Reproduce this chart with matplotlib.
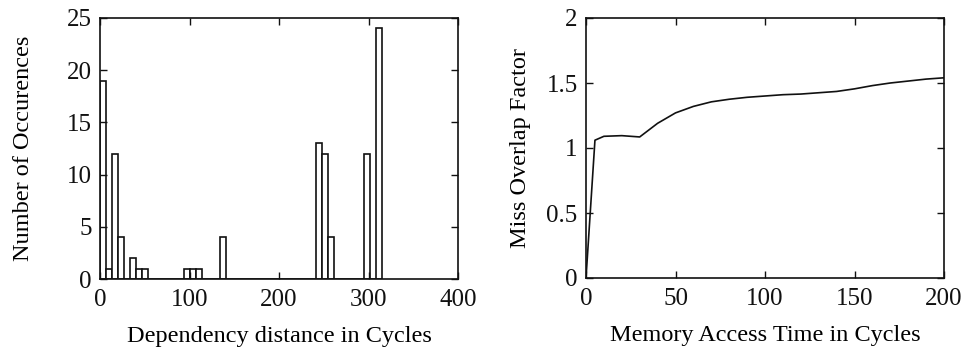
import matplotlib
matplotlib.use("Agg")
import matplotlib.pyplot as plt
import numpy as np

plt.rcParams['font.family'] = ['Liberation Serif', 'DejaVu Serif']

# Left chart: histogram of dependency distances (bin width ~6.7 cycles)
bin_width = 6.7
hist_counts = [19, 1, 12, 4, 0, 2, 1, 1, 0, 0, 0, 0, 0, 0, 1, 1, 1, 0, 0, 0,
               4, 0, 0, 0, 0, 0, 0, 0, 0, 0, 0, 0, 0, 0, 0, 0, 13, 12, 4, 0,
               0, 0, 0, 0, 12, 0, 24]

# Right chart: miss overlap factor vs memory access time
access_time = [0, 5, 10, 20, 30, 40, 50, 60, 70, 80, 90, 100, 110, 120, 130,
               140, 150, 160, 170, 180, 190, 200]
overlap = [0, 1.06, 1.09, 1.095, 1.085, 1.19, 1.27, 1.32, 1.355, 1.375, 1.39,
           1.40, 1.41, 1.415, 1.425, 1.435, 1.455, 1.48, 1.50, 1.515, 1.53, 1.54]

fig = plt.figure(figsize=(9.63, 3.51), dpi=100)
W, H = 963, 351
ax1 = fig.add_axes([100 / W, 1 - 279 / H, 358 / W, 261 / H])
ax2 = fig.add_axes([586 / W, 1 - 278 / H, 358 / W, 260 / H])

fs_tick = 18
fs_lab = 17.5
edges = np.arange(len(hist_counts)) * bin_width
ax1.bar(edges, hist_counts, width=bin_width, align='edge', facecolor='white',
        edgecolor='#111111', linewidth=1.2)
ax1.set_xlim(0, 400)
ax1.set_ylim(0, 25)
ax1.set_xticks([0, 100, 200, 300, 400])
ax1.set_yticks([0, 5, 10, 15, 20, 25])
ax1.set_xlabel('Dependency distance in Cycles', fontsize=fs_lab)
ax1.set_ylabel('Number of Occurences', fontsize=fs_lab)
ax1.yaxis.set_label_coords((34 - 100) / 358, 0.5)
ax1.xaxis.set_label_coords(0.5, (279 - 326) / 261)

ax2.plot(access_time, overlap, color='#111111', linewidth=1.2)
ax2.set_xlim(0, 200)
ax2.set_ylim(0, 2)
ax2.set_xticks([0, 50, 100, 150, 200])
ax2.set_yticks([0, 0.5, 1, 1.5, 2])
ax2.set_yticklabels(['0', '0.5', '1', '1.5', '2'])
ax2.set_xlabel('Memory Access Time in Cycles', fontsize=fs_lab)
ax2.set_ylabel('Miss Overlap Factor', fontsize=fs_lab)
ax2.yaxis.set_label_coords((531 - 586) / 358, 0.5)
ax2.xaxis.set_label_coords(0.5, (278 - 325) / 260)

for ax in (ax1, ax2):
    ax.tick_params(direction='in', length=5, width=1, top=True, right=True,
                   labelsize=fs_tick, colors='#111111')
    ax.tick_params(axis='x', pad=7)
    ax.tick_params(axis='y', pad=6)
    for s in ax.spines.values():
        s.set_linewidth(1.2)
        s.set_color('#111111')

fig.savefig('out.png', dpi=100)
